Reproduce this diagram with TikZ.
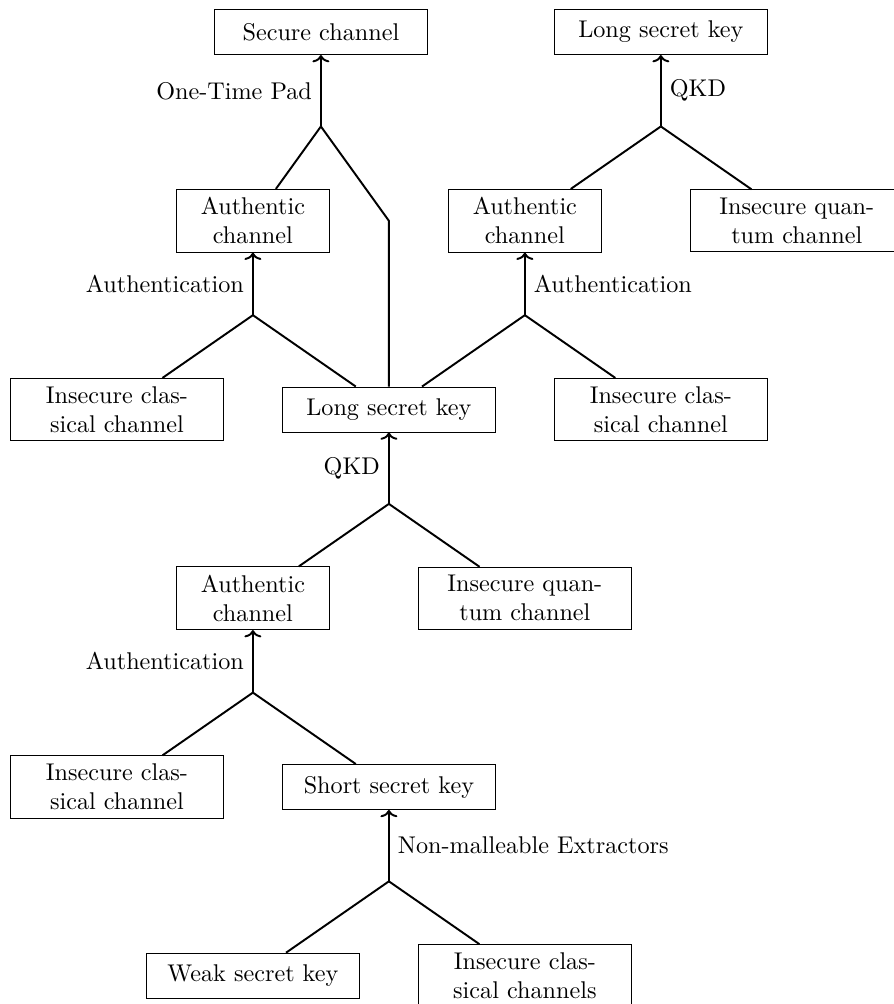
\documentclass[tikz,border=0pt]{standalone}
\usetikzlibrary{arrows.meta}
\begin{document}
\begin{tikzpicture}[x=56.2pt,y=39pt,
  box/.style={draw,align=center,minimum width=87.8pt,minimum height=18.6pt},
  narrowbox/.style={box,minimum width=63pt},
  link/.style={thick},
  gain/.style={thick,-{To[width=7pt,length=3pt]}}]
\useasboundingbox (0.14,0.34) rectangle (6.71,-10.3);
\node[box] (sec) at (2.5,0) {Secure channel};
\node[box] (lskA) at (5,0) {Long secret key};
\node[narrowbox] (authA) at (2,-2) {Authentic\\channel};
\node[narrowbox] (authB) at (4,-2) {Authentic\\channel};
\node[box] (iqA) at (6,-2) {Insecure quan-\\tum channel};
\node[box] (icA) at (1,-4) {Insecure clas-\\sical channel};
\node[box] (lskB) at (3,-4) {Long secret key};
\node[box] (icB) at (5,-4) {Insecure clas-\\sical channel};
\node[narrowbox] (authC) at (2,-6) {Authentic\\channel};
\node[box] (iqB) at (4,-6) {Insecure quan-\\tum channel};
\node[box] (icC) at (1,-8) {Insecure clas-\\sical channel};
\node[box] (ssk) at (3,-8) {Short secret key};
\node[box] (wsk) at (2,-10) {Weak secret key};
\node[box] (icD) at (4,-10) {Insecure clas-\\sical channels};
\coordinate (otp) at (2.5,-1);
\coordinate (qkdA) at (5,-1);
\coordinate (authjA) at (2,-3);
\coordinate (authjB) at (4,-3);
\coordinate (qkdB) at (3,-5);
\coordinate (authjC) at (2,-7);
\coordinate (nme) at (3,-9);
\draw[gain] (otp) -- node[left] {One-Time Pad} (sec);
\draw[link] (otp) -- (authA);
\draw[link] (otp) -- (lskB |- authA) -- (lskB);
\draw[gain] (qkdA) -- node[right] {QKD} (lskA);
\draw[link] (qkdA) -- (authB);
\draw[link] (qkdA) -- (iqA);
\draw[gain] (authjA) -- node[left] {Authentication} (authA);
\draw[link] (authjA) -- (icA);
\draw[link] (authjA) -- (lskB);
\draw[gain] (authjB) -- node[right] {Authentication} (authB);
\draw[link] (authjB) -- (lskB);
\draw[link] (authjB) -- (icB);
\draw[gain] (qkdB) -- node[left] {QKD} (lskB);
\draw[link] (qkdB) -- (authC);
\draw[link] (qkdB) -- (iqB);
\draw[gain] (authjC) -- node[left] {Authentication} (authC);
\draw[link] (authjC) -- (icC);
\draw[link] (authjC) -- (ssk);
\draw[gain] (nme) -- node[right] {Non-malleable Extractors} (ssk);
\draw[link] (nme) -- (wsk);
\draw[link] (nme) -- (icD);
\end{tikzpicture}
\end{document}
